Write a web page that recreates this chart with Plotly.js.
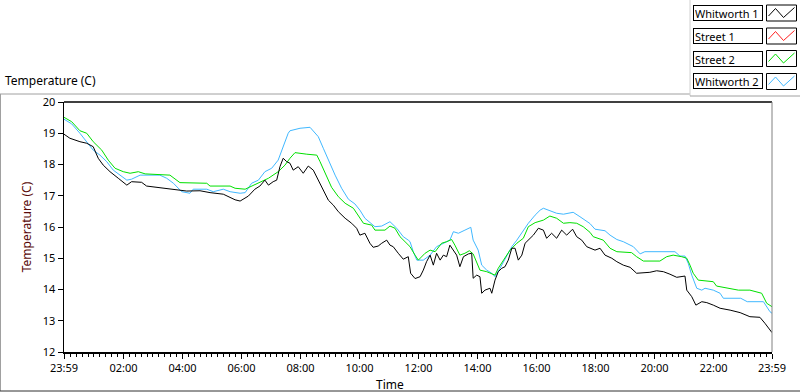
<!DOCTYPE html>
<html>
<head>
<meta charset="utf-8">
<script src="https://cdn.plot.ly/plotly-3.0.1.min.js"></script>
<style>
html,body{margin:0;padding:0;background:#fff;}
#chart{width:800px;height:392px;}
</style>
</head>
<body>
<div id="chart"></div>
<script>
// ---- data (hours after 23:59, temperature in C) ----
const seriesNames = ['Whitworth 1', 'Street 1', 'Street 2', 'Whitworth 2'];

const w1Hours = [
  0.00,0.20,0.54,0.77,0.99,1.16,1.33,1.56,1.84,2.13,
  2.29,2.63,2.80,3.14,3.48,3.82,4.16,4.61,4.95,5.40,
  5.63,5.80,5.97,6.25,6.47,6.64,6.81,6.93,7.09,7.21,
  7.32,7.43,7.55,7.66,7.77,7.94,8.11,8.28,8.45,8.62,
  8.79,8.96,9.13,9.30,9.53,9.75,9.92,10.03,10.20,10.37,
  10.48,10.65,10.77,10.94,11.05,11.16,11.33,11.50,11.67,11.75,
  11.90,12.07,12.18,12.29,12.41,12.52,12.63,12.75,12.86,12.97,
  13.08,13.20,13.31,13.42,13.54,13.71,13.82,13.87,13.99,14.10,
  14.16,14.27,14.44,14.50,14.61,14.72,14.84,14.95,15.06,15.18,
  15.29,15.40,15.52,15.63,15.74,15.91,16.08,16.25,16.36,16.53,
  16.70,16.87,17.04,17.24,17.38,17.55,17.72,17.83,18.00,18.17,
  18.34,18.57,18.74,18.96,19.19,19.41,19.64,19.86,20.09,20.32,
  20.54,20.77,21.05,21.11,21.28,21.42,21.62,21.79,22.01,22.24,
  22.58,22.92,23.25,23.59,23.76,24.00
];
const w1Temp = [
  18.97,18.84,18.73,18.68,18.57,18.20,17.98,17.77,17.56,17.34,
  17.45,17.43,17.31,17.27,17.24,17.21,17.15,17.16,17.10,17.05,
  16.95,16.87,16.83,16.99,17.21,17.31,17.50,17.34,17.45,17.50,
  17.93,18.20,18.09,18.04,17.82,17.93,17.72,17.95,17.82,17.50,
  17.18,16.86,16.70,16.49,16.28,16.12,15.96,15.74,15.80,15.48,
  15.35,15.39,15.48,15.58,15.42,15.37,15.16,14.97,15.05,14.52,
  14.35,14.41,14.62,14.89,15.10,14.78,15.16,14.94,15.10,15.05,
  15.42,15.26,15.10,14.73,15.05,15.14,15.16,14.36,14.46,14.41,
  13.88,13.98,14.04,13.88,14.30,14.57,14.68,14.73,14.94,15.32,
  15.32,14.94,15.10,15.48,15.58,15.74,15.96,15.90,15.64,15.80,
  15.64,15.90,15.74,15.93,15.69,15.58,15.37,15.32,15.26,15.32,
  15.10,15.00,14.89,14.78,14.71,14.52,14.54,14.55,14.60,14.57,
  14.49,14.39,14.43,13.98,13.77,13.50,13.61,13.58,13.50,13.40,
  13.34,13.26,13.13,13.11,12.92,12.62
];

const s1Hours = [];
const s1Temp = [];

const s2Hours = [
  0.00,0.26,0.54,0.77,0.99,1.28,1.50,1.73,2.01,2.24,
  2.52,2.75,3.59,3.93,4.84,4.95,5.63,5.80,6.14,6.36,
  6.64,6.93,7.26,7.49,7.66,7.83,8.23,8.57,8.68,8.85,
  9.07,9.30,9.53,9.81,9.98,10.15,10.43,10.54,10.88,11.05,
  11.22,11.39,11.56,11.73,11.90,12.01,12.24,12.41,12.58,12.80,
  12.97,13.14,13.25,13.42,13.59,13.74,13.87,13.99,14.10,14.33,
  14.50,14.61,14.72,14.95,15.12,15.35,15.57,15.74,15.97,16.25,
  16.47,16.70,16.93,17.15,17.38,17.60,17.83,17.94,18.28,18.51,
  18.74,19.24,19.41,19.64,20.20,20.43,20.65,20.94,21.11,21.22,
  21.33,21.50,21.79,22.01,22.12,22.58,22.86,23.25,23.65,23.82,
  24.00
];
const s2Temp = [
  19.51,19.37,19.08,19.00,18.73,18.46,18.14,17.88,17.77,17.72,
  17.77,17.70,17.66,17.42,17.40,17.31,17.31,17.24,17.21,17.31,
  17.45,17.56,17.77,17.98,18.20,18.38,18.33,18.30,18.09,17.72,
  17.27,16.97,16.76,16.60,16.38,16.12,16.06,15.90,15.90,16.03,
  15.96,15.69,15.53,15.37,15.10,14.94,15.16,15.26,15.21,15.48,
  15.53,15.60,15.42,15.10,15.16,15.24,15.14,14.84,14.62,14.57,
  14.49,14.46,14.68,15.00,15.26,15.48,15.64,16.01,16.14,16.22,
  16.35,16.28,16.12,16.14,16.12,16.01,15.83,15.69,15.58,15.32,
  15.21,15.18,15.05,14.91,14.91,15.05,15.10,15.05,15.00,14.78,
  14.52,14.30,14.28,14.25,14.11,14.04,13.98,13.98,13.88,13.56,
  13.45
];

const w2Hours = [
  0.00,0.26,0.54,0.77,0.99,1.22,1.45,1.67,1.96,2.13,
  2.29,2.58,3.25,3.48,3.71,3.99,4.27,4.38,4.84,5.06,
  5.40,5.63,5.97,6.14,6.36,6.59,6.81,7.04,7.26,7.43,
  7.60,7.66,8.00,8.34,8.45,8.62,8.79,8.96,9.19,9.41,
  9.64,9.86,10.03,10.20,10.37,10.54,10.77,11.05,11.28,11.50,
  11.67,11.73,11.84,11.96,12.18,12.41,12.63,12.86,13.08,13.20,
  13.37,13.59,13.79,13.87,14.04,14.16,14.33,14.50,14.61,14.78,
  15.01,15.18,15.35,15.57,15.74,15.97,16.14,16.25,16.47,16.70,
  16.93,17.26,17.49,17.83,18.00,18.34,18.51,18.74,18.96,19.30,
  19.53,19.69,20.71,20.88,21.05,21.16,21.28,21.45,21.62,21.73,
  22.01,22.24,22.35,22.94,23.16,23.71,23.93,24.00
];
const w2Temp = [
  19.45,19.30,19.00,18.73,18.46,18.30,18.09,17.82,17.61,17.50,
  17.53,17.66,17.66,17.56,17.40,17.13,17.08,17.21,17.21,17.13,
  17.21,17.13,17.08,17.10,17.40,17.50,17.77,17.88,18.14,18.57,
  19.00,19.08,19.16,19.19,19.08,18.89,18.52,18.14,17.66,17.24,
  16.89,16.74,16.54,16.28,16.14,16.01,16.03,16.17,15.96,15.69,
  15.58,15.53,15.21,14.94,14.94,15.10,15.37,15.48,15.58,15.85,
  15.80,15.90,15.99,15.58,15.26,14.78,14.62,14.52,14.41,14.68,
  15.05,15.37,15.58,15.90,16.12,16.38,16.54,16.60,16.52,16.44,
  16.41,16.47,16.33,16.11,15.93,15.88,15.74,15.60,15.53,15.37,
  15.14,15.21,15.21,15.07,15.07,14.84,14.46,14.04,13.98,14.04,
  13.98,13.88,13.72,13.72,13.61,13.61,13.29,13.24
];

const tickHours = [0, 2.017, 4.017, 6.017, 8.017, 10.017, 12.017, 14.017, 16.017, 18.017, 20.017, 22.017, 24];
const tickLabels = ['23:59','02:00','04:00','06:00','08:00','10:00','12:00','14:00','16:00','18:00','20:00','22:00','23:59'];

// ---- styling ----
const colors = ['#000000', '#ff2020', '#00e000', '#40b8ff'];
const FONT = 'Noto Sans, DejaVu Sans, sans-serif';

// plot area in pixels: x 64..772, y 102..352
const L = 64, R = 772, T = 102, B = 352;
const px = x => (x - L) / (R - L);
const py = y => (B - y) / (B - T);

const traces = [
  {x: w1Hours, y: w1Temp, name: seriesNames[0]},
  {x: s1Hours, y: s1Temp, name: seriesNames[1]},
  {x: s2Hours, y: s2Temp, name: seriesNames[2]},
  {x: w2Hours, y: w2Temp, name: seriesNames[3]}
].map((t, i) => Object.assign(t, {
  type: 'scatter', mode: 'lines',
  line: {color: colors[i], width: 1},
  hoverinfo: 'skip'
}));
// draw order: blue and green under black
const drawOrder = [traces[3], traces[2], traces[1], traces[0]];

const shapes = [];
const annotations = [];

// outer frame
shapes.push({type:'line', xref:'paper', yref:'paper', x0:px(0), x1:px(690), y0:py(94), y1:py(94), line:{color:'#a0a0a0', width:1}});
shapes.push({type:'line', xref:'paper', yref:'paper', x0:px(0.5), x1:px(0.5), y0:py(94), y1:py(391), line:{color:'#a0a0a0', width:1}});
shapes.push({type:'line', xref:'paper', yref:'paper', x0:px(0), x1:px(800), y0:py(391), y1:py(391), line:{color:'#303030', width:1}});
// legend frame
shapes.push({type:'line', xref:'paper', yref:'paper', x0:px(690), x1:px(690), y0:py(0), y1:py(96), line:{color:'#d0d0d0', width:1}});
shapes.push({type:'line', xref:'paper', yref:'paper', x0:px(690), x1:px(800), y0:py(96), y1:py(96), line:{color:'#a0a0a0', width:1}});
// plot area top and right borders
shapes.push({type:'line', xref:'paper', yref:'paper', x0:0, x1:1, y0:1, y1:1, line:{color:'#000', width:1.5}});
shapes.push({type:'line', xref:'paper', yref:'paper', x0:1, x1:1, y0:0, y1:1, line:{color:'#808080', width:1}});

// legend rows
const rowTops = [5, 28, 50.5, 73.5];
seriesNames.forEach((nm, i) => {
  const top = rowTops[i], bot = top + 16;
  annotations.push({
    xref:'paper', yref:'paper', x:px(692.5), y:py((top+bot)/2),
    xanchor:'left', yanchor:'middle', text:nm, showarrow:false, align:'left',
    width:66, height:12, borderpad:1, bordercolor:'#000', borderwidth:1, bgcolor:'#fff',
    font:{family:FONT, size:11, color:'#000'}
  });
  shapes.push({type:'rect', xref:'paper', yref:'paper', x0:px(766.5), x1:px(796.5), y0:py(bot), y1:py(top),
    line:{color:'#000', width:1}, fillcolor:'#fff'});
  const x0 = 766.5;
  const path = 'M ' + px(x0+2) + ' ' + py(top+11) +
               ' L ' + px(x0+9) + ' ' + py(top+3.5) +
               ' L ' + px(x0+17) + ' ' + py(top+12.5) +
               ' L ' + px(x0+28) + ' ' + py(top+2.5);
  shapes.push({type:'path', xref:'paper', yref:'paper', path:path, line:{color:colors[i], width:1}});
});

// top-left caption
annotations.push({xref:'paper', yref:'paper', x:px(3), y:py(81), xanchor:'left', yanchor:'middle',
  text:'Temperature (C)', showarrow:false, font:{family:FONT, size:12, color:'#000'}});
// x axis title
annotations.push({xref:'paper', yref:'paper', x:px(390), y:py(384), xanchor:'center', yanchor:'middle',
  text:'Time', showarrow:false, font:{family:FONT, size:12, color:'#000'}});

const layout = {
  width: 800, height: 392,
  margin: {l: L, r: 800 - R, t: T, b: 392 - B, pad: 0},
  paper_bgcolor: '#ffffff', plot_bgcolor: '#ffffff',
  showlegend: false,
  xaxis: {
    range: [0, 24], showgrid: false, zeroline: false,
    showline: true, linecolor: '#000', linewidth: 1.5,
    tickmode: 'array', tickvals: tickHours, ticktext: tickLabels,
    ticks: 'outside', ticklen: 5, tickcolor: '#000', tickwidth: 1,
    minor: {tickmode: 'linear', tick0: 0.0167, dtick: 0.2, ticks: 'outside', ticklen: 3, tickcolor: '#000', showgrid: false},
    tickfont: {family: FONT, size: 11, color: '#000'}
  },
  yaxis: {
    range: [12, 20], dtick: 1, tick0: 12, showgrid: false, zeroline: false,
    showline: true, linecolor: '#000', linewidth: 1.5,
    ticks: 'outside', ticklen: 5, tickcolor: '#000', tickwidth: 1,
    tickfont: {family: FONT, size: 11, color: '#000'},
    title: {text: 'Temperature (C)', standoff: 8, font: {family: FONT, size: 12, color: '#5a0a0a'}}
  },
  shapes: shapes,
  annotations: annotations
};

Plotly.newPlot('chart', drawOrder, layout, {staticPlot: true, displayModeBar: false});
</script>
</body>
</html>
